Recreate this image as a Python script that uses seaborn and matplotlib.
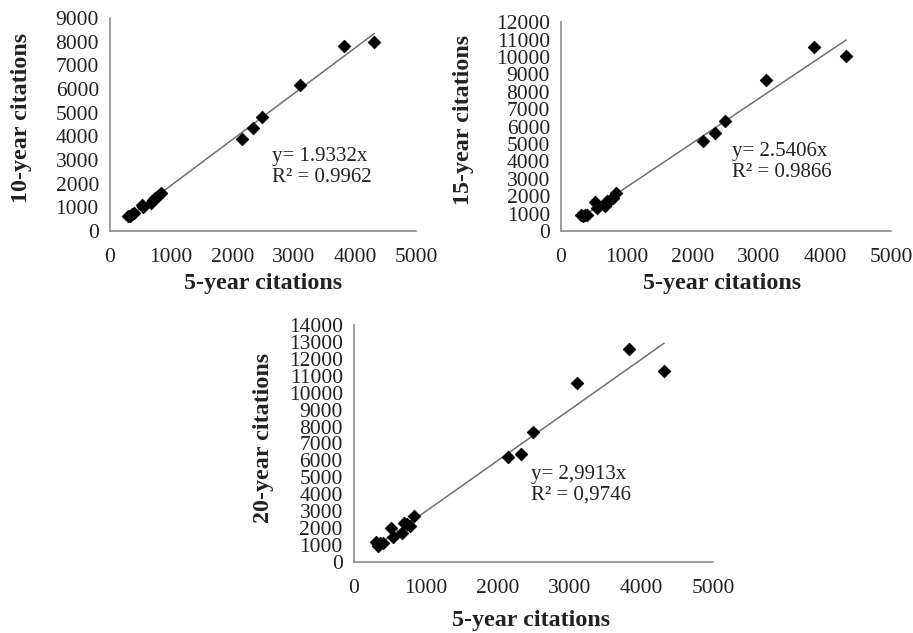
import numpy as np
import matplotlib
matplotlib.use("Agg")
import matplotlib.pyplot as plt
import seaborn as sns

# 5-year citations (same for all three panels)
cit5 = [300, 330, 360, 400, 520, 540, 670, 700, 740, 780, 830,
        2150, 2330, 2490, 3110, 3830, 4320]
cit10 = [650, 620, 720, 760, 1080, 1020, 1200, 1330, 1400, 1500, 1620,
         3880, 4360, 4820, 6150, 7800, 8000]
cit15 = [950, 850, 900, 950, 1650, 1300, 1450, 1750, 1800, 1900, 2200,
         5150, 5650, 6350, 8650, 10550, 10050]
cit20 = [1200, 950, 1100, 1100, 2000, 1450, 1700, 2300, 2250, 2150, 2700,
         6200, 6350, 7650, 10550, 12600, 11300]

slopes = [1.9332, 2.5406, 2.9913]
eq_texts = ["y= 1.9332x\nR\u00b2 = 0.9962",
            "y= 2.5406x\nR\u00b2 = 0.9866",
            "y= 2,9913x\nR\u00b2 = 0,9746"]
ylabels = ["10-year citations", "15-year citations", "20-year citations"]
ymax = [9000, 12000, 14000]

sns.set_style("white")
plt.rcParams['font.family'] = ['Liberation Serif', 'DejaVu Serif']

fig = plt.figure(figsize=(9.13, 6.33), dpi=100)

# axes rectangles (left, bottom, width, height) in figure fractions
rects = [(0.1205, 0.635, 0.3352, 0.3365),
         (0.6145, 0.635, 0.3614, 0.330),
         (0.3877, 0.1122, 0.3932, 0.3744)]
text_pos = [(2640, 3570), (2590, 5120), (2470, 5740)]
xlab_pos = [(0.50, -0.244), (0.488, -0.249), (0.493, -0.245)]
ylab_pos = [(-0.29, 0.53), (-0.297, 0.531), (-0.253, 0.523)]

grey = "#8c8c8c"

for i, yvals in enumerate([cit10, cit15, cit20]):
    ax = fig.add_axes(rects[i])
    x = np.array(cit5)
    # trend line through origin over the data range
    xl = np.array([x.min(), x.max()])
    sns.lineplot(x=xl, y=slopes[i] * xl, ax=ax, color="#707070", linewidth=1.1)
    sns.scatterplot(x=x, y=yvals, ax=ax, marker="D", color="black", s=42,
                    edgecolor="black", linewidth=0.5, zorder=3)

    ax.set_xlim(0, 5000)
    ax.set_ylim(0, ymax[i])
    ax.set_xticks(range(0, 5001, 1000))
    ax.set_yticks(range(0, ymax[i] + 1, 1000))
    ax.tick_params(labelsize=15.5, length=5, width=1, color=grey, pad=3,
                   labelcolor="#222222")
    ax.tick_params(axis="x", pad=7)
    for side in ["top", "right"]:
        ax.spines[side].set_visible(False)
    for side in ["left", "bottom"]:
        ax.spines[side].set_color(grey)
        ax.spines[side].set_linewidth(1.2)

    ax.set_xlabel("5-year citations", fontsize=17.3, fontweight="bold", color="#222222")
    ax.set_ylabel(ylabels[i], fontsize=17.3, fontweight="bold", color="#222222")
    ax.xaxis.set_label_coords(*xlab_pos[i])
    ax.yaxis.set_label_coords(*ylab_pos[i])
    ax.xaxis.label.set_va("center")
    ax.yaxis.label.set_va("center")

    ax.text(text_pos[i][0], text_pos[i][1], eq_texts[i], fontsize=15,
            va="top", ha="left", color="#222222", linespacing=1.15)

plt.savefig("out.png", dpi=100)
